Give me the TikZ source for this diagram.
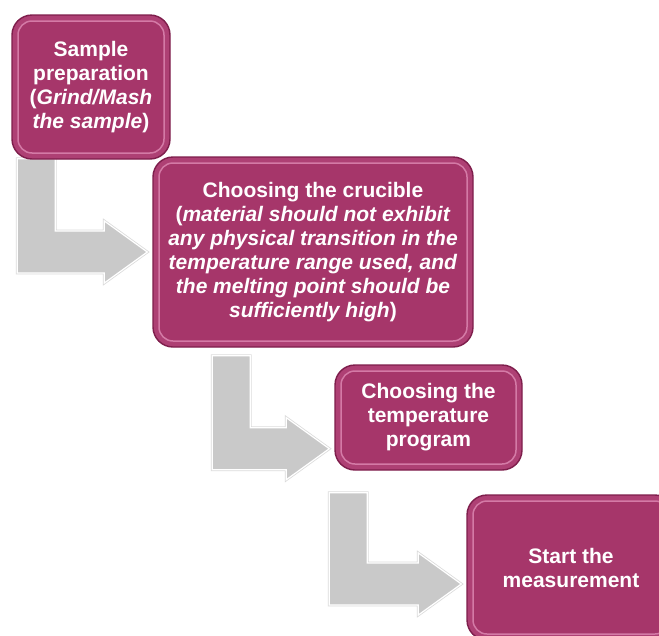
\documentclass[tikz,border=0pt]{standalone}
\usepackage{fontspec}
\setmainfont{Liberation Sans}
\usepackage{xcolor}
\usetikzlibrary{calc, backgrounds}

\definecolor{stepfill}{HTML}{A6366A}
\definecolor{stepring}{HTML}{AE4074}
\definecolor{stepedge}{HTML}{7E1E4C}
\definecolor{stephi}{HTML}{D47AA6}
\definecolor{bendgray}{HTML}{C9C9C9}

\newcommand{\bentarrow}[2]{%
  \path[bendarrow] let \p1=(#1), \p2=(#2) in
    (\x1,\y1) -- (\x1+38pt,\y1) -- (\x1+38pt,\y2+21pt) -- (\x2-43pt,\y2+21pt)
    -- (\x2-43pt,\y2+31pt) -- (\x2,\y2) -- (\x2-43pt,\y2-31pt)
    -- (\x2-43pt,\y2-21pt) -- (\x1,\y2-21pt) -- cycle;}

\begin{document}
\begin{tikzpicture}[x=1pt, y=-1pt,
  stepbox/.style={rounded corners=20pt, fill=stepring, draw=stepedge, line width=1.4pt,
    text=white, align=center, inner sep=0pt,
    font=\fontsize{21}{24}\selectfont\bfseries,
    path picture={\draw[stephi, fill=stepfill, line width=1.5pt, rounded corners=14pt]
      ($(path picture bounding box.south west)+(6pt,6pt)$) rectangle
      ($(path picture bounding box.north east)+(-6pt,-6pt)$);}},
  bendarrow/.style={fill=bendgray, draw=white, line width=1.2pt,
    preaction={draw=black!14, line width=2.8pt}}]
  \useasboundingbox (0,0) rectangle (659,635);
  \node[stepbox, minimum width=158pt, minimum height=144pt] (prep) at (91,87)
    {Sample\\preparation\\(\textit{Grind/Mash}\\\textit{the sample})};
  \node[stepbox, minimum width=320pt, minimum height=190pt] (crucible) at (313,252)
    {Choosing the crucible\\(\textit{material should not exhibit}\\\textit{any physical transition in the}\\\textit{temperature range used, and}\\\textit{the melting point should be}\\\textit{sufficiently high})};
  \node[stepbox, minimum width=187pt, minimum height=105pt] (program) at (428.5,417.5)
    {Choosing the\\temperature\\program};
  \node[stepbox, minimum width=208pt, minimum height=145pt] (measure) at (571,567.5)
    {Start the\\measurement};
  \begin{scope}[on background layer]
    \bentarrow{$(prep.south west)+(6,-1)$}{$(crucible.west)+(-5,0)$}
    \bentarrow{$(crucible.south west)+(60,8)$}{$(program.south west)+(-5,-22)$}
    \bentarrow{$(program.south west)+(-5,22)$}{$(measure.west)+(-5,16.5)$}
  \end{scope}
\end{tikzpicture}
\end{document}
